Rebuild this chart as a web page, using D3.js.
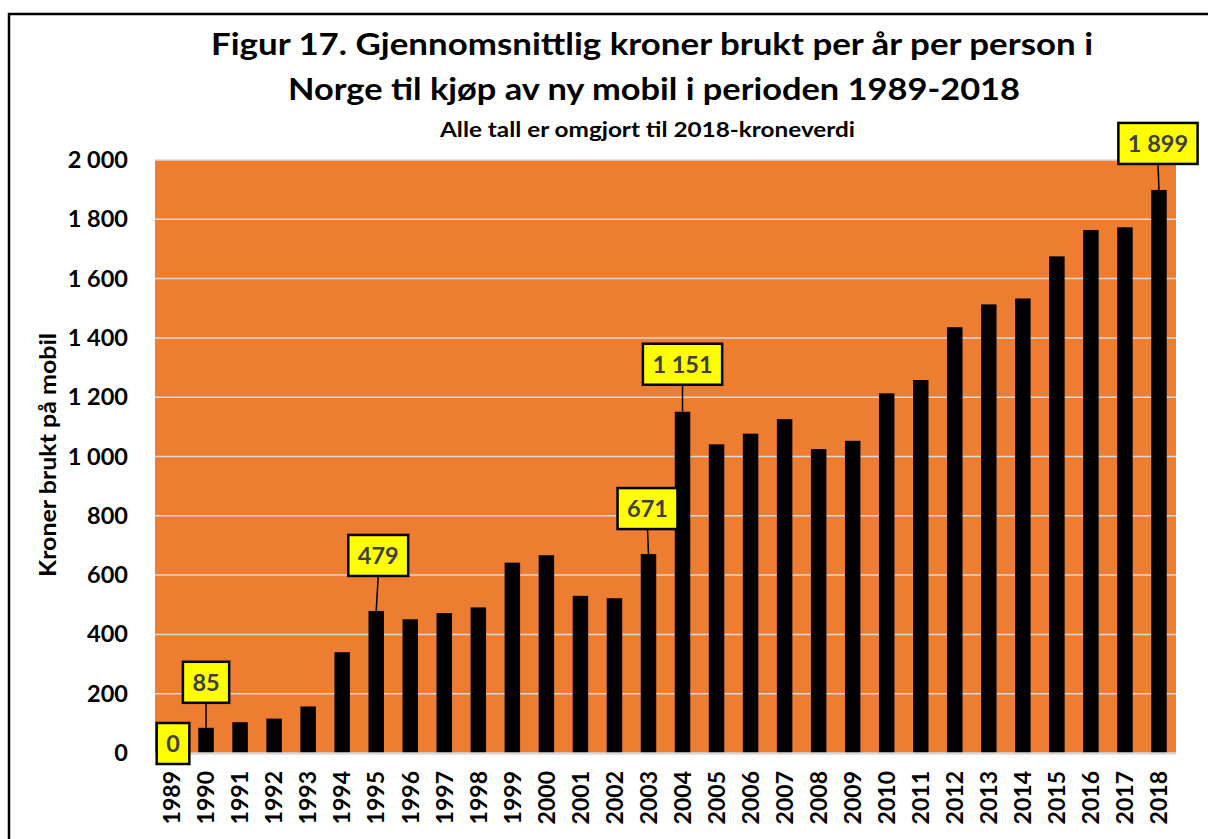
<!DOCTYPE html>
<html>
<head>
<meta charset="utf-8">
<script src="https://cdn.jsdelivr.net/npm/d3@7"></script>
<style>
  body { margin: 0; background: #fff; }
  text { font-family: Lato, "Open Sans", sans-serif; font-weight: 700; }
</style>
</head>
<body>
<div id="chart"></div>
<script>
// data (kroner, 2018 value)
var years = ["1989", "1990", "1991", "1992", "1993", "1994", "1995", "1996", "1997", "1998",
    "1999", "2000", "2001", "2002", "2003", "2004", "2005", "2006", "2007", "2008",
    "2009", "2010", "2011", "2012", "2013", "2014", "2015", "2016", "2017", "2018"];
var values = [0, 85, 104, 116, 157, 340, 479, 451, 472, 491,
    642, 667, 530, 522, 671, 1151, 1041, 1077, 1126, 1025,
    1053, 1213, 1258, 1436, 1513, 1533, 1675, 1764, 1773, 1899];
var yTicks = [0, 200, 400, 600, 800, 1000, 1200, 1400, 1600, 1800, 2000];
var labeledYears = ["1989", "1990", "1995", "2003", "2004", "2018"];

var titleLines = [
    "Figur 17. Gjennomsnittlig kroner brukt per år per person i",
    "Norge til kjøp av ny mobil i perioden 1989-2018"
];
var subTitle = "Alle tall er omgjort til 2018-kroneverdi";
var yTitle = "Kroner brukt på mobil";

// callout placement (box center offset from the bar top, px)
var callout = {
    "1989": { dx: 1, gap: -11, line: false },
    "1990": { dx: 0, gap: 25, line: true },
    "1995": { dx: 2, gap: 35, line: true },
    "2003": { dx: -1, gap: 25, line: true },
    "2004": { dx: 0, gap: 27, line: true },
    "2018": { dx: -1, gap: 26, line: true }
};

var W = 1208, H = 839;
var plot = { left: 155, right: 1176, top: 160, bottom: 753 };

var svg = d3.select("#chart").append("svg")
    .attr("width", W)
    .attr("height", H);

// outer frame (continues past the picture on right and bottom)
svg.append("path")
    .attr("d", "M9," + (H + 5) + "V14H" + (W + 5))
    .attr("fill", "none")
    .attr("stroke", "#000")
    .attr("stroke-width", 2.5);

// titles
var titleY = [55, 100];
var titleX = [652, 654];
var titleW = [882, 732];
titleLines.forEach(function (t, i) {
    svg.append("text")
        .attr("x", titleX[i])
        .attr("y", titleY[i])
        .attr("text-anchor", "middle")
        .attr("font-size", 31)
        .attr("textLength", titleW[i])
        .attr("lengthAdjust", "spacingAndGlyphs")
        .text(t);
});
svg.append("text")
    .attr("x", 647.5)
    .attr("y", 137)
    .attr("text-anchor", "middle")
    .attr("font-size", 21)
    .attr("textLength", 415)
    .attr("lengthAdjust", "spacingAndGlyphs")
    .text(subTitle);

// scales
var x = d3.scaleBand()
    .domain(years)
    .range([plot.left, plot.right])
    .paddingInner(0.545)
    .paddingOuter(0.2725);

var y = d3.scaleLinear()
    .domain([0, 2000])
    .range([plot.bottom, plot.top]);

var fmt = d3.formatLocale({ decimal: ",", thousands: " ", grouping: [3], currency: ["", " kr"] }).format(",d");

// plot background
svg.append("rect")
    .attr("x", plot.left)
    .attr("y", plot.top)
    .attr("width", plot.right - plot.left)
    .attr("height", plot.bottom - plot.top)
    .attr("fill", "#ED7D31");

// gridlines
svg.append("g")
    .selectAll("line")
    .data(yTicks.filter(function (d) { return d > 0; }))
    .join("line")
    .attr("x1", plot.left)
    .attr("x2", plot.right)
    .attr("y1", function (d) { return y(d); })
    .attr("y2", function (d) { return y(d); })
    .attr("stroke", "#d9d9d9")
    .attr("stroke-width", 1.5);

// bars
svg.append("g")
    .selectAll("rect")
    .data(values)
    .join("rect")
    .attr("x", function (d, i) { return x(years[i]); })
    .attr("y", function (d) { return y(d); })
    .attr("width", x.bandwidth())
    .attr("height", function (d) { return y(0) - y(d); })
    .attr("fill", "#000");

// baseline
svg.append("line")
    .attr("x1", plot.left)
    .attr("x2", plot.right)
    .attr("y1", y(0) + 0.5)
    .attr("y2", y(0) + 0.5)
    .attr("stroke", "#d9d9d9")
    .attr("stroke-width", 2.5);

// y axis
var yAxis = svg.append("g")
    .attr("transform", "translate(" + plot.left + ",0)")
    .call(d3.axisLeft(y).tickValues(yTicks).tickSize(0).tickPadding(27).tickFormat(fmt));
yAxis.select(".domain").remove();
yAxis.selectAll("text")
    .attr("font-family", "Lato, 'Open Sans', sans-serif")
    .attr("font-size", 23.5)
    .attr("fill", "#000");

// x axis
var xAxis = svg.append("g")
    .attr("transform", "translate(0," + plot.bottom + ")")
    .call(d3.axisBottom(x).tickSize(0));
xAxis.select(".domain").remove();
xAxis.selectAll("text")
    .attr("font-family", "Lato, 'Open Sans', sans-serif")
    .attr("font-size", 23)
    .attr("fill", "#000")
    .attr("text-anchor", "end")
    .attr("transform", "rotate(-90)")
    .attr("x", -18)
    .attr("y", 0)
    .attr("dy", "0.36em");

// y title
svg.append("text")
    .attr("transform", "translate(56,455) rotate(-90)")
    .attr("text-anchor", "middle")
    .attr("font-size", 22)
    .attr("textLength", 244)
    .attr("lengthAdjust", "spacingAndGlyphs")
    .text(yTitle);

// callouts
var boxH = 41;
var cg = svg.append("g");
labeledYears.forEach(function (yr) {
    var i = years.indexOf(yr);
    var v = values[i];
    var c = callout[yr];
    var cx = x(yr) + x.bandwidth() / 2;
    var top = y(v);
    var bx = cx + c.dx;
    var bBottom = top - c.gap;
    var g = cg.append("g");
    if (c.line) {
        g.append("line")
            .attr("x1", bx)
            .attr("y1", bBottom)
            .attr("x2", cx)
            .attr("y2", top)
            .attr("stroke", "#000")
            .attr("stroke-width", 1.5);
    }
    var rect = g.append("rect");
    var t = g.append("text")
        .attr("x", bx)
        .attr("y", bBottom - boxH / 2)
        .attr("dy", "0.36em")
        .attr("text-anchor", "middle")
        .attr("font-size", 23.5)
        .attr("fill", "#404040")
        .text(fmt(v));
    var tw = t.node().getComputedTextLength();
    rect.attr("x", bx - tw / 2 - 9.5)
        .attr("y", bBottom - boxH)
        .attr("width", tw + 19)
        .attr("height", boxH)
        .attr("fill", "#ffff00")
        .attr("stroke", "#000")
        .attr("stroke-width", 2.5);
});
</script>
</body>
</html>
